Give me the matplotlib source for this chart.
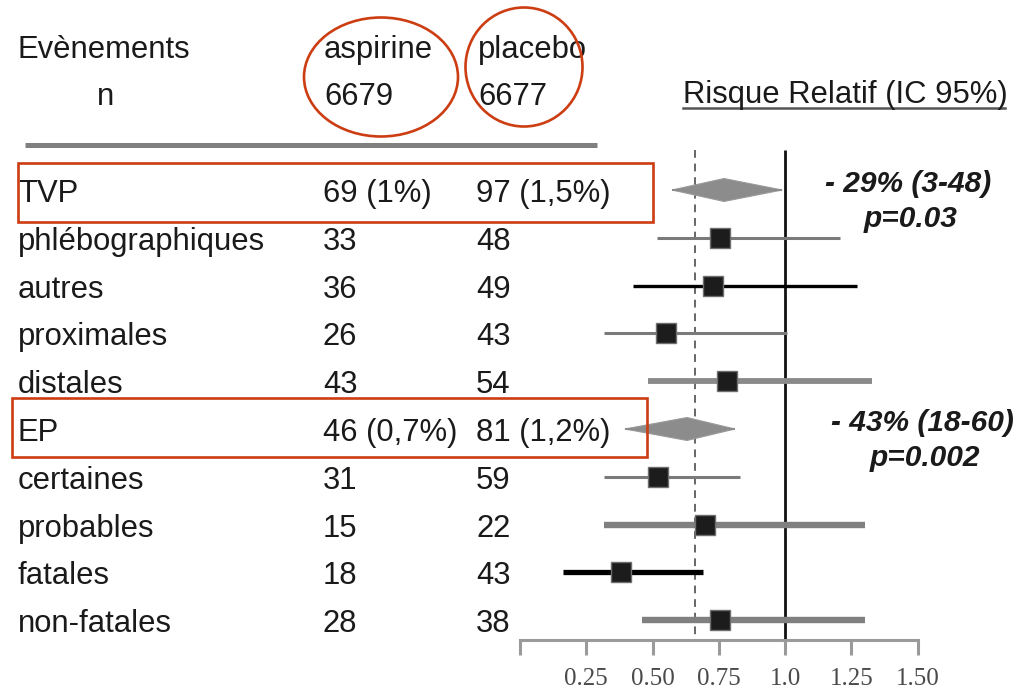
import numpy as np
import matplotlib.pyplot as plt
from matplotlib.patches import Ellipse, Rectangle, Polygon

plt.rcParams['font.family'] = ['Liberation Sans', 'DejaVu Sans']

# table rows, top to bottom
labels = ['TVP', 'phlébographiques', 'autres', 'proximales', 'distales',
          'EP', 'certaines', 'probables', 'fatales', 'non-fatales']
aspirine = ['69 (1%)', '33', '36', '26', '43', '46 (0,7%)', '31', '15', '18', '28']
placebo = ['97 (1,5%)', '48', '49', '43', '54', '81 (1,2%)', '59', '22', '43', '38']
n_aspirine, n_placebo = 6679, 6677

# relative risk: point, lower, upper
rr = [0.77, 0.755, 0.727, 0.551, 0.781, 0.63, 0.52, 0.697, 0.38, 0.754]
lo = [0.574, 0.517, 0.426, 0.317, 0.483, 0.396, 0.317, 0.317, 0.163, 0.459]
hi = [0.989, 1.208, 1.272, 1.006, 1.327, 0.811, 0.830, 1.302, 0.692, 1.302]
is_total = [True, False, False, False, False, True, False, False, False, False]
ref_rr = 0.66

summary = ['- 29% (3-48)', '- 43% (18-60)']
pvalues = ['p=0.03', 'p=0.002']

ticks = [0, 0.25, 0.5, 0.75, 1.0, 1.25, 1.5]
tick_labels = ['', '0.25', '0.50', '0.75', '1.0', '1.25', '1.50']

# line look of each row (colour, width in pt)
row_style = [None, ('#7a7a7a', 2.2), ('#000000', 2.4), ('#7a7a7a', 2.2), ('#8a8a8a', 4.2),
             None, ('#7a7a7a', 2.2), ('#808080', 4.6), ('#000000', 3.8), ('#808080', 4.6)]

TEXT = '#1a1a1a'
RED = '#cc3d12'
FS = 22.3

fig = plt.figure(figsize=(10.19, 6.88), dpi=100)
ax = fig.add_axes([0, 0, 1, 1])

# pixel helpers for placing text and decorations
X0, SX = 520, 265
Y0, SY = 190, 47.8
def px(x):
    return (x - X0) / SX
def py(y):
    return (y - Y0) / SY

ax.set_xlim(px(0), px(1019))
ax.set_ylim(py(688), py(0))

for s in ['top', 'left', 'right']:
    ax.spines[s].set_visible(False)
ax.spines['bottom'].set_position(('data', py(640)))
ax.spines['bottom'].set_bounds(0, 1.5)
ax.spines['bottom'].set_color('#9a9a9a')
ax.spines['bottom'].set_linewidth(2.2)
ax.set_yticks([])
ax.set_xticks(ticks, tick_labels)
ax.tick_params(axis='x', direction='out', length=11, width=2.2, color='#9a9a9a',
               pad=9, labelsize=18, labelcolor='#4a4a4a')
for lbl in ax.get_xticklabels():
    lbl.set_family('Liberation Serif')

# reference lines
ax.vlines(1.0, py(150), py(640), color='#111111', lw=2.0)
ax.vlines(ref_rr, py(150), py(640), color='#666666', lw=1.4, linestyles=(0, (4, 3)))

# forest marks
rows = np.arange(len(labels))
for i in rows:
    if is_total[i]:
        h = 0.24
        ax.add_patch(Polygon([(lo[i], i), (rr[i], i - h), (hi[i], i), (rr[i], i + h)],
                             closed=True, fc='#8c8c8c', ec='#9a9a9a', lw=0.8, zorder=3))
        ax.hlines(i, lo[i], hi[i], color='#8c8c8c', lw=1.5, zorder=3)
    else:
        c, w = row_style[i]
        ax.hlines(i, lo[i], hi[i], color=c, lw=w, zorder=3)
        ax.plot(rr[i], i, 's', ms=14, mfc='#1c1c1c', mec='#6e6e6e', mew=1.0, zorder=4)

# table text
off = 12 / SY
for i in rows:
    ax.text(px(18), i + off, labels[i], fontsize=FS, color=TEXT, va='baseline')
    ax.text(px(323), i + off, aspirine[i], fontsize=FS, color=TEXT, va='baseline')
    ax.text(px(476), i + off, placebo[i], fontsize=FS, color=TEXT, va='baseline')

# header
ax.text(px(18), py(58), 'Evènements', fontsize=FS, color=TEXT, va='baseline')
ax.text(px(97), py(105), 'n', fontsize=FS, color=TEXT, va='baseline')
ax.text(px(324), py(58), 'aspirine', fontsize=FS, color=TEXT, va='baseline')
ax.text(px(324), py(105), str(n_aspirine), fontsize=FS, color=TEXT, va='baseline')
ax.text(px(478), py(58), 'placebo', fontsize=FS, color=TEXT, va='baseline')
ax.text(px(478), py(105), str(n_placebo), fontsize=FS, color=TEXT, va='baseline')
ax.text(px(683), py(103), 'Risque Relatif (IC 95%)', fontsize=FS, color=TEXT, va='baseline')
ax.plot([px(683), px(1005)], [py(108), py(108)], color='#555555', lw=1.8)
ax.plot([px(25), px(597)], [py(145), py(145)], color='#808080', lw=3.6, solid_capstyle='butt')

# summary effects next to the diamonds
tot = [i for i in rows if is_total[i]]
for k, i in enumerate(tot):
    ax.text(px(908 + 14 * k), i - 6 / SY, summary[k], fontsize=FS - 0.8, color=TEXT,
            ha='center', va='center', fontweight='bold', fontstyle='italic')
    ax.text(px(911 + 14 * k), i + 29 / SY, pvalues[k], fontsize=FS - 0.8, color=TEXT,
            ha='center', va='center', fontweight='bold', fontstyle='italic')

# red highlights
for (x1, y1, x2, y2) in [(18, 163, 653, 222), (12, 398, 647, 457)]:
    ax.add_patch(Rectangle((px(x1), py(y1)), px(x2) - px(x1), py(y2) - py(y1),
                           fill=False, ec=RED, lw=1.9, zorder=5))
for (cx, cy, w, h) in [(381, 77, 154, 119), (524, 67, 117, 119)]:
    ax.add_patch(Ellipse((px(cx), py(cy)), w / SX, h / SY,
                         fill=False, ec=RED, lw=1.9, zorder=5))

fig.savefig('out.png', dpi=100)
